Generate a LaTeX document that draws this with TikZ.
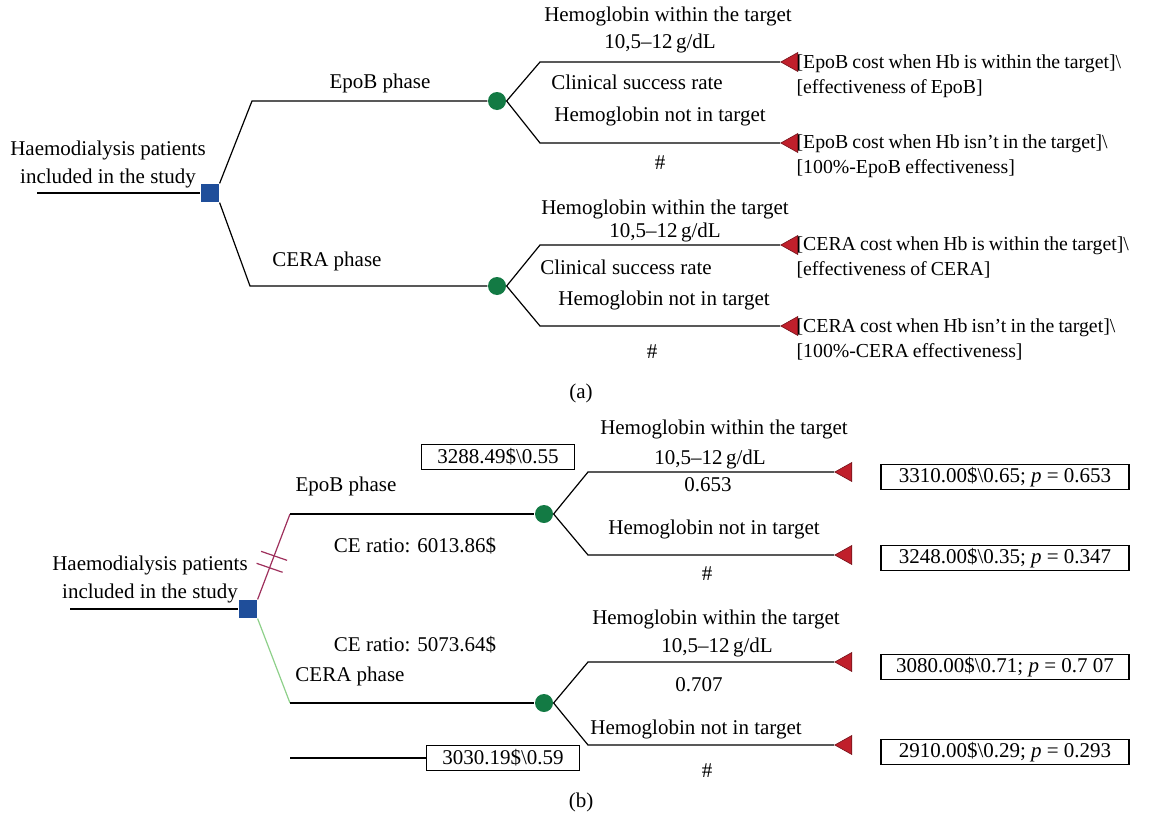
\documentclass[tikz,border=0pt]{standalone}
\usepackage{fontspec}
\setmainfont{Liberation Serif}
\usetikzlibrary{positioning, shapes.geometric}

\definecolor{decblue}{HTML}{1F4E9A}
\definecolor{chgreen}{HTML}{137A44}
\definecolor{termred}{HTML}{C01F2B}
\definecolor{epobline}{HTML}{9E2F5C}
\definecolor{ceraline}{HTML}{8ED08A}

\newcommand\tightspace{\spaceskip=0.21em plus 0.05em\relax}

\tikzset{
  decision/.style={rectangle, fill=decblue, minimum size=9pt, inner sep=0pt},
  chance/.style={circle, fill=chgreen, minimum size=9pt, inner sep=0pt},
  terminal/.style={isosceles triangle, shape border rotate=180, isosceles triangle stretches,
    fill=termred, draw=termred!60!black, line width=0.3pt,
    minimum width=9.5pt, minimum height=8.5pt, inner sep=0pt, anchor=apex},
  lbl/.style={inner sep=0pt, align=center},
  payoff/.style={inner sep=0pt, align=left, anchor=north west,
    font=\fontsize{9.9}{12.8}\selectfont\tightspace},
  valbox/.style={draw, rectangle, inner sep=0pt, line width=0.6pt, minimum height=12.5pt},
}

\begin{document}
\begin{tikzpicture}[x=0.5pt, y=-0.5pt, line width=0.6pt,
    every node/.style={font=\fontsize{10.5}{13}\selectfont}]
  \useasboundingbox (0,0) rectangle (1162,819);

  % ---------------- (a) ----------------
  \coordinate (rootA) at (37,193);
  \node[decision] (decA) at (210,193) {};
  \draw (rootA) -- (decA);
  \node[lbl, font=\fontsize{10.5}{14}\selectfont] (studyA) at (108,164) {Haemodialysis patients\\ included in the study};

  % EpoB
  \coordinate (epoA0) at (252,101);
  \node[chance] (epoA) at (497,101) {};
  \draw (decA.north east) -- (epoA0) -- (epoA);
  \node[lbl] (epoAlbl) at (380,83) {EpoB phase};

  \coordinate (epoA1) at (540,62);
  \coordinate (epoA2) at (540,143);
  \node[terminal] (tA1) at (780,62) {};
  \node[terminal] (tA2) at (780,143) {};
  \draw (epoA.east) -- (epoA1) -- (tA1);
  \draw (epoA.east) -- (epoA2) -- (tA2);
  \node[lbl] (hbinA) at (668,16) {Hemoglobin within the target};
  \node[lbl] (rngA) at (660,43) {10,5--12\,g/dL};
  \node[lbl] (csrA) at (637,82) {Clinical success rate};
  \node[lbl] (hboutA) at (660,116) {Hemoglobin not in target};
  \node[lbl] (hashA) at (660,163) {\#};
  \node[payoff] (payA1) at (796,54) {[EpoB cost when Hb is within the target]\textbackslash\\ {[effectiveness of EpoB]}};
  \node[payoff] (payA2) at (796,134) {[EpoB cost when Hb isn't in the target]\textbackslash\\ {[100\%-EpoB effectiveness]}};

  % CERA
  \coordinate (ceraA0) at (250,286);
  \node[chance] (ceraA) at (497,286) {};
  \draw (decA.south east) -- (ceraA0) -- (ceraA);
  \node[lbl] (ceraAlbl) at (327,261) {CERA phase};

  \coordinate (ceraA1) at (540,245);
  \coordinate (ceraA2) at (540,326);
  \node[terminal] (tA3) at (780,245) {};
  \node[terminal] (tA4) at (780,326) {};
  \draw (ceraA.east) -- (ceraA1) -- (tA3);
  \draw (ceraA.east) -- (ceraA2) -- (tA4);
  \node[lbl] (hbinA2) at (665,209) {Hemoglobin within the target};
  \node[lbl] (rngA2) at (665,232) {10,5--12\,g/dL};
  \node[lbl] (csrA2) at (626,267) {Clinical success rate};
  \node[lbl] (hboutA2) at (664,300) {Hemoglobin not in target};
  \node[lbl] (hashA2) at (652,352) {\#};
  \node[payoff] (payA3) at (796,236) {[CERA cost when Hb is within the target]\textbackslash\\ {[effectiveness of CERA]}};
  \node[payoff] (payA4) at (796,318) {[CERA cost when Hb isn't in the target]\textbackslash\\ {[100\%-CERA effectiveness]}};

  \node[lbl] (capA) at (581,393) {(a)};

  % ---------------- (b) ----------------
  \coordinate (rootB) at (70,609);
  \node[decision] (decB) at (248,609) {};
  \draw (rootB) -- (decB);
  \node[lbl, font=\fontsize{10.5}{14}\selectfont] (studyB) at (150,579) {Haemodialysis patients\\ included in the study};

  % EpoB
  \coordinate (epoB0) at (290,514);
  \node[chance] (epoB) at (544,514) {};
  \draw[epobline] (decB.north east) -- coordinate[pos=0.37] (cut1) coordinate[pos=0.51] (cut2) (epoB0);
  \draw (epoB0) -- (epoB);
  \foreach \c in {cut1, cut2}
    \draw[epobline] (\c) ++(-13,-4.5) -- ++(26,9);
  \node[lbl] (epoBlbl) at (346,486) {EpoB phase};
  \node[lbl] (ceB1) at (415,546) {CE ratio: 6013.86\$};
  \node[valbox, minimum width=76.5pt] (valE) at (498,457) {3288.49\$\textbackslash 0.55};

  \coordinate (epoB1) at (588,472);
  \coordinate (epoB2) at (588,555);
  \node[terminal] (tB1) at (834,472) {};
  \node[terminal] (tB2) at (834,555) {};
  \draw (epoB.east) -- (epoB1) -- (tB1);
  \draw (epoB.east) -- (epoB2) -- (tB2);
  \node[lbl] (hbinB) at (724,429) {Hemoglobin within the target};
  \node[lbl] (rngB) at (710,459) {10,5--12\,g/dL};
  \node[lbl] (prB1) at (708,485) {0.653};
  \node[lbl] (hboutB) at (714,529) {Hemoglobin not in target};
  \node[lbl] (hashB) at (707,574) {\#};
  \node[valbox, minimum width=124pt] (payB1) at (1005,477) {3310.00\$\textbackslash 0.65; \textit{p} = 0.653};
  \node[valbox, minimum width=124pt] (payB2) at (1005,558) {3248.00\$\textbackslash 0.35; \textit{p} = 0.347};

  % CERA
  \coordinate (ceraB0) at (290,703);
  \node[chance] (ceraB) at (544,703) {};
  \draw[ceraline] (decB.south east) -- (ceraB0);
  \draw (ceraB0) -- (ceraB);
  \node[lbl] (ceB2) at (415,645) {CE ratio: 5073.64\$};
  \node[lbl] (ceraBlbl) at (350,676) {CERA phase};
  \coordinate (optB) at (290,758);
  \node[valbox, minimum width=76.5pt] (valC) at (503,758) {3030.19\$\textbackslash 0.59};
  \draw (optB) -- (valC);

  \coordinate (ceraB1) at (588,662);
  \coordinate (ceraB2) at (588,745);
  \node[terminal] (tB3) at (834,662) {};
  \node[terminal] (tB4) at (834,745) {};
  \draw (ceraB.east) -- (ceraB1) -- (tB3);
  \draw (ceraB.east) -- (ceraB2) -- (tB4);
  \node[lbl] (hbinB2) at (716,619) {Hemoglobin within the target};
  \node[lbl] (rngB2) at (717,647) {10,5--12\,g/dL};
  \node[lbl] (prB2) at (699,685) {0.707};
  \node[lbl] (hboutB2) at (696,729) {Hemoglobin not in target};
  \node[lbl] (hashB2) at (707,771) {\#};
  \node[valbox, minimum width=124pt] (payB3) at (1005,667) {3080.00\$\textbackslash 0.71; \textit{p} = 0.7 07};
  \node[valbox, minimum width=124pt] (payB4) at (1005,752) {2910.00\$\textbackslash 0.29; \textit{p} = 0.293};

  \node[lbl] (capB) at (581,802) {(b)};
\end{tikzpicture}
\end{document}
